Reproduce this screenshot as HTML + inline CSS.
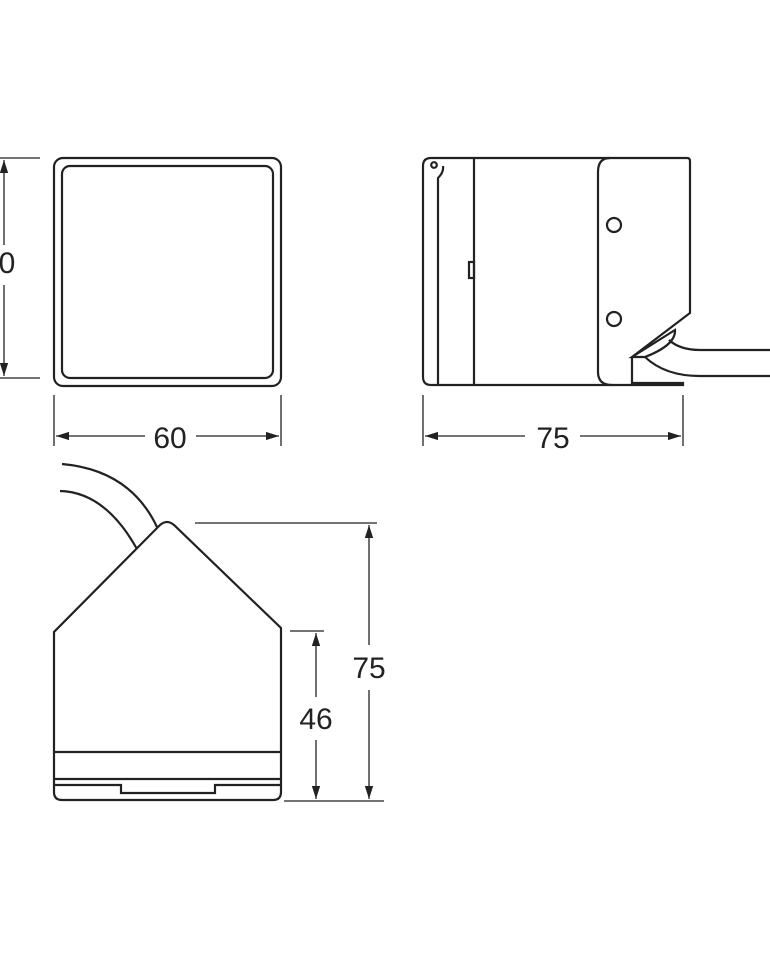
<!DOCTYPE html>
<html><head><style>body{margin:0;background:#fff}svg{display:block}text{font-family:"Liberation Sans",sans-serif;font-size:30px;fill:#222;text-anchor:middle}</style></head>
<body>
<svg width="770" height="960" viewBox="0 0 770 960" xmlns="http://www.w3.org/2000/svg">
<defs>
<marker id="a" viewBox="0 0 10 10" refX="10" refY="5" markerWidth="13" markerHeight="13" markerUnits="userSpaceOnUse" orient="auto-start-reverse"><path d="M0,1.8 L10,5 L0,8.2z" fill="#222"/></marker>
</defs>
<g fill="none" stroke="#222" stroke-width="2.2">
<rect x="54" y="158" width="227" height="228" rx="9"/>
<rect x="62" y="166" width="211" height="212" rx="8"/>
<g stroke-width="1.3">
<line x1="0" y1="158" x2="40" y2="158"/><line x1="0" y1="378" x2="40" y2="378"/>
<line x1="4" y1="160" x2="4" y2="245" marker-start="url(#a)"/>
<line x1="4" y1="285" x2="4" y2="376" marker-end="url(#a)"/>
<line x1="54" y1="395" x2="54" y2="446"/><line x1="281" y1="395" x2="281" y2="446"/>
<line x1="56" y1="436" x2="145" y2="436" marker-start="url(#a)"/>
<line x1="196" y1="436" x2="279" y2="436" marker-end="url(#a)"/>
</g>
<path d="M431,158 L687,158 Q690,158 690,161 L690,313 L632,357 L632,383 L683,383 L683,385 L431,385 Q423,385 423,377 L423,166 Q423,158 431,158z"/>
<path d="M438,385 L438,178 Q444,172 443,166"/>
<circle cx="434" cy="165" r="2.8"/>
<line x1="474" y1="158" x2="474" y2="385"/>
<rect x="469" y="262" width="5" height="16"/>
<path d="M610,158 Q598,158 598,172 L598,372 Q598,385 612,385"/>
<circle cx="614" cy="225" r="7"/>
<circle cx="614" cy="319" r="7"/>
<path d="M632,357 L675,330 Q676,345 645,357 Z"/>
<path d="M669,340 Q680,350 700,350 L770,350"/>
<path d="M645,357 Q665,376 700,376 L770,376"/>
<g stroke-width="1.3">
<line x1="423" y1="395" x2="423" y2="446"/><line x1="683" y1="395" x2="683" y2="446"/>
<line x1="425" y1="436" x2="525" y2="436" marker-start="url(#a)"/>
<line x1="580" y1="436" x2="681" y2="436" marker-end="url(#a)"/>
</g>
<path d="M160,525 Q167,519 174,525 L281,628 L281,792 Q281,800 273,800 L62,800 Q54,800 54,792 L54,632 Z"/>
<line x1="54" y1="752" x2="281" y2="752"/>
<line x1="54" y1="779" x2="281" y2="779"/>
<path d="M54,785 L121,785 L121,793 L215,793 L215,785 L281,785"/>
<path d="M62,464 Q130,470 157,527"/>
<path d="M60,491 Q105,492 137,549"/>
<g stroke-width="1.3">
<line x1="195" y1="523" x2="377" y2="523"/>
<line x1="290" y1="631" x2="324" y2="631"/>
<line x1="284" y1="801" x2="384" y2="801"/>
<line x1="369" y1="525" x2="369" y2="645" marker-start="url(#a)"/>
<line x1="369" y1="690" x2="369" y2="799" marker-end="url(#a)"/>
<line x1="316" y1="633" x2="316" y2="697" marker-start="url(#a)"/>
<line x1="316" y1="740" x2="316" y2="799" marker-end="url(#a)"/>
</g>
</g>
<text x="7" y="273">0</text>
<text x="170" y="448">60</text>
<text x="553" y="448">75</text>
<text x="369" y="678">75</text>
<text x="316" y="729">46</text>
</svg>
</body></html>
